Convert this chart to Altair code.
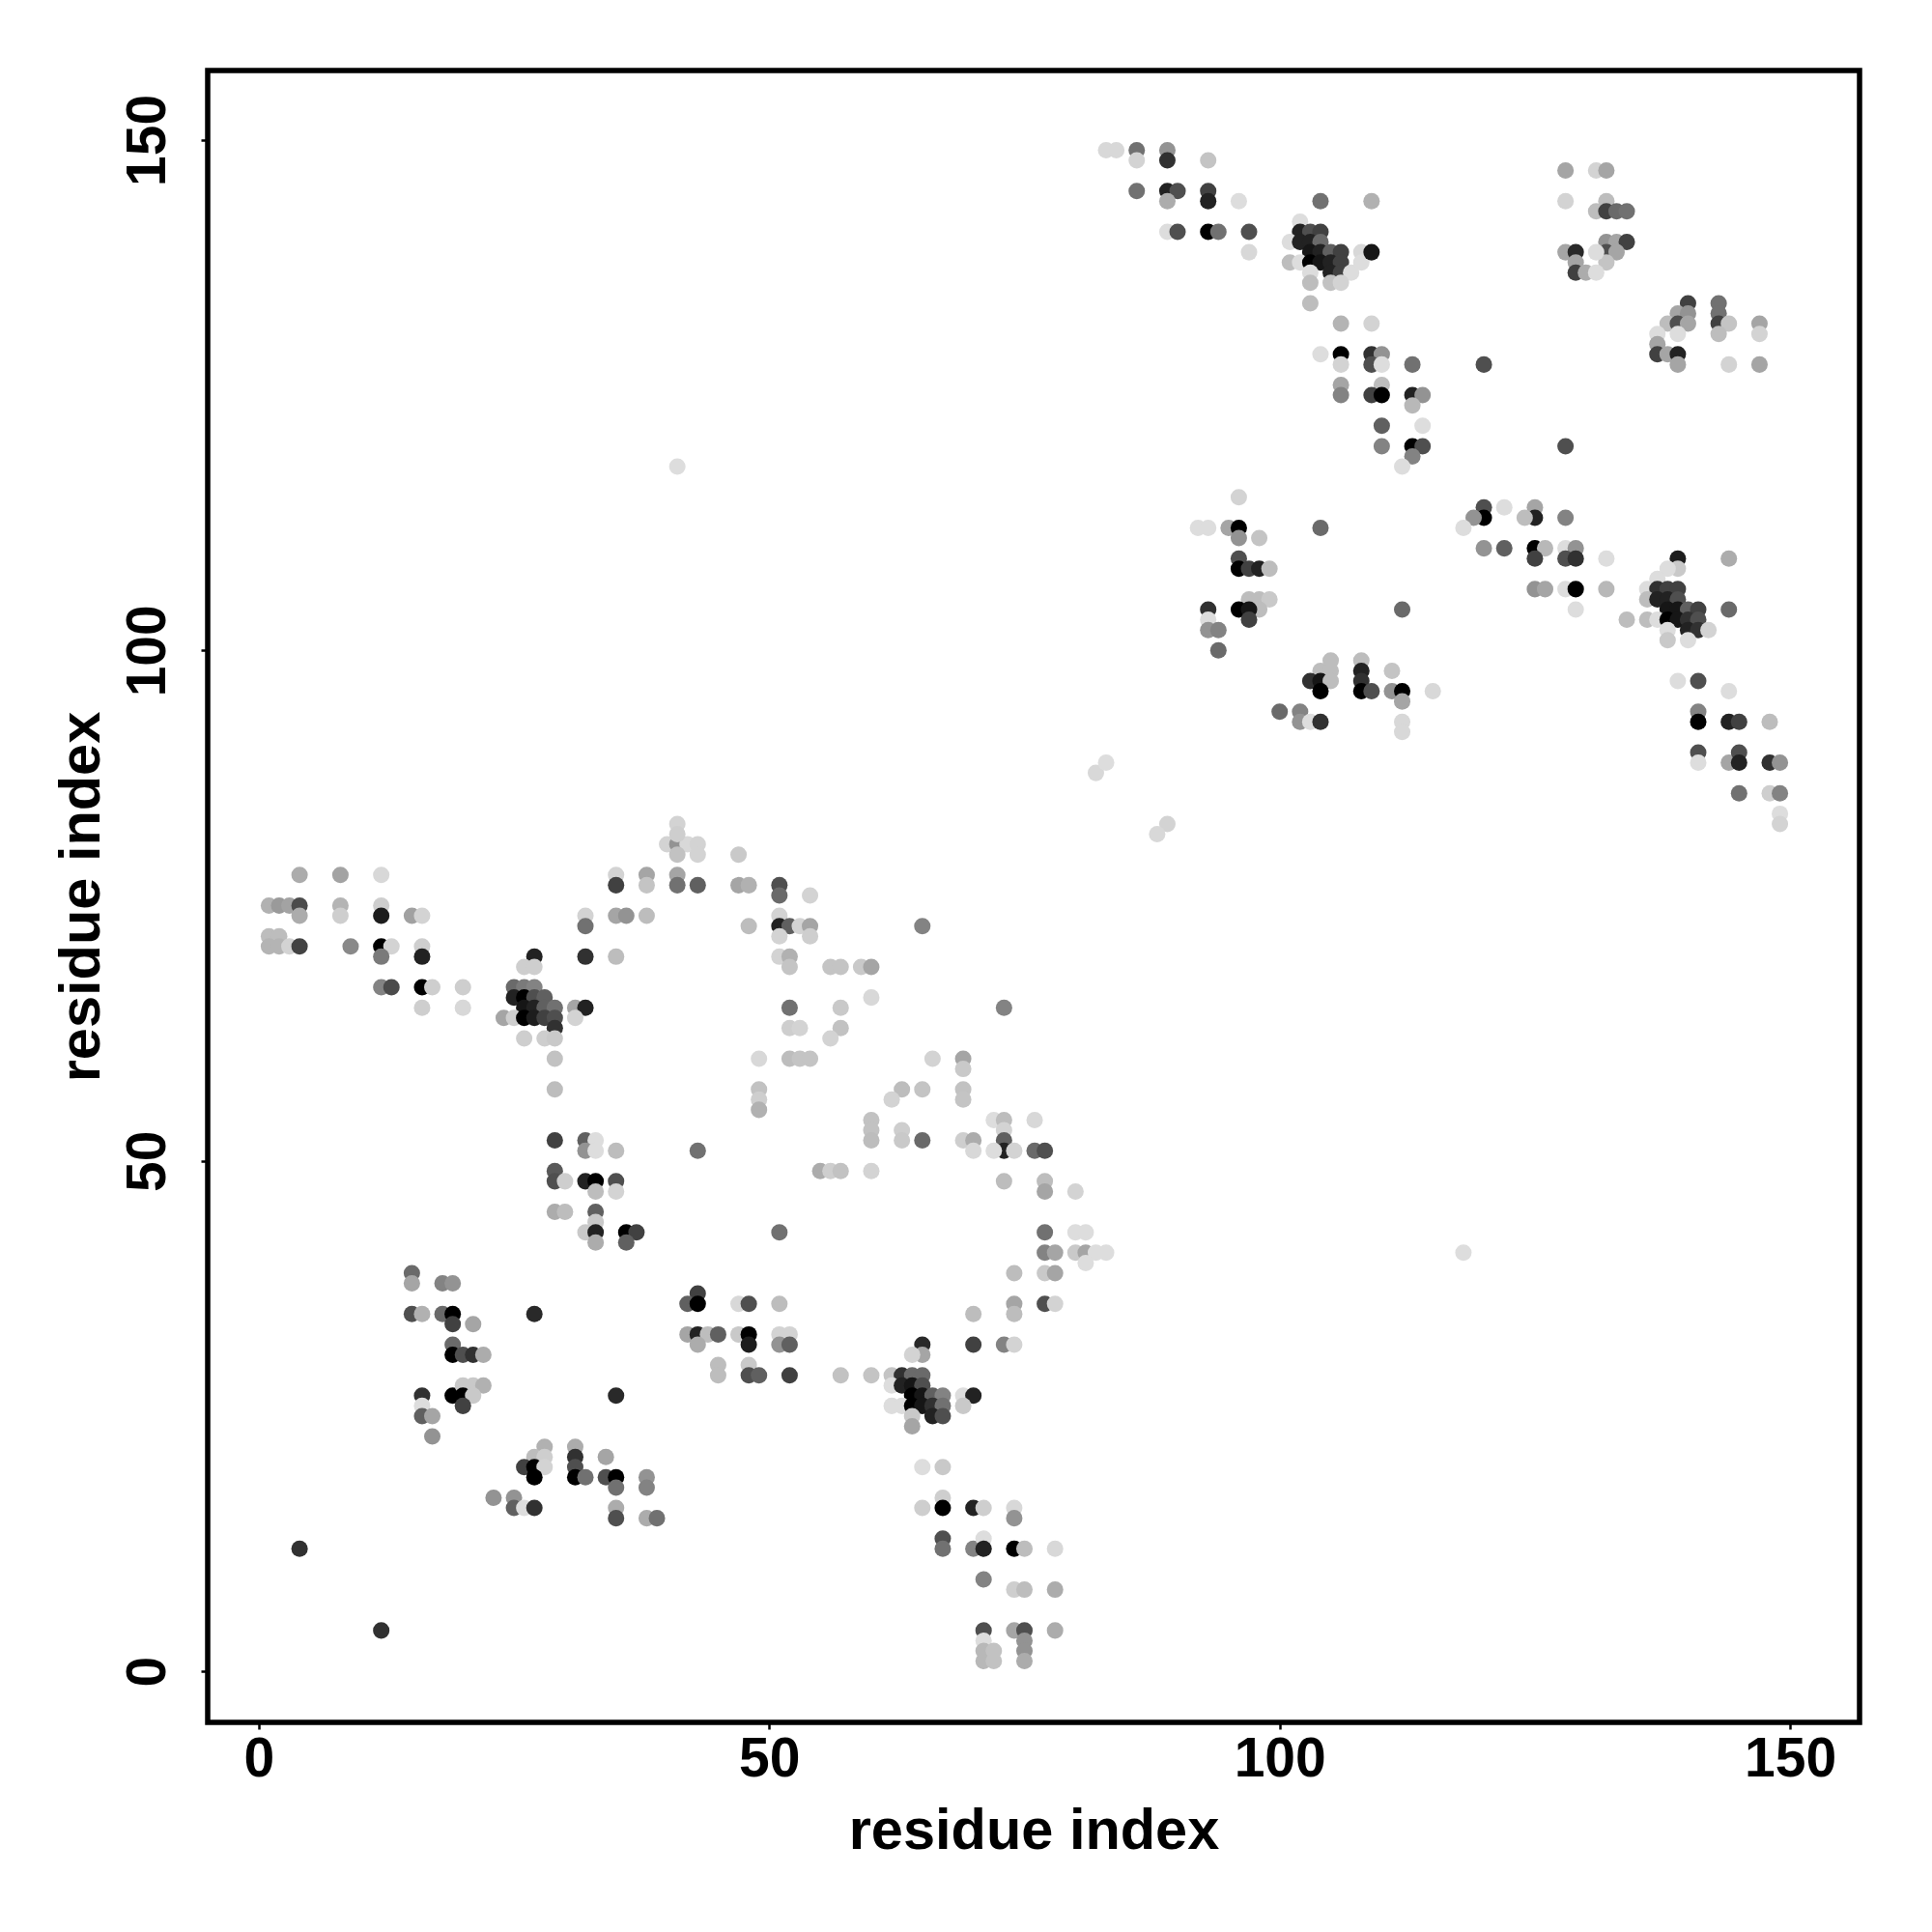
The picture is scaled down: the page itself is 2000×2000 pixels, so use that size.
import altair as alt
import pandas as pd

# contacts as (residue i, residue j, score 0-100); score drives the gray level
contacts_a = [
    (4,78,20),(8,78,24),(12,78,2),
    (1,75,18),(2,75,28),(3,75,24),(4,75,64),(4,74,20),
    (8,75,17),(8,74,6),(12,75,6),(12,74,88),(15,74,25),(16,74,4),
    (1,72,13),(2,72,13),(1,71,17),(2,71,17),(3,71,4),(4,71,68),
    (9,71,35),(12,71,100),(13,71,4),(12,70,42),(16,71,6),(16,70,85),
    (12,67,38),(13,67,64),(16,67,100),(17,67,6),(20,67,6),
    (16,65,6),(20,65,2),
    (27,70,85),(26,69,6),(27,69,6),
    (25,67,49),(26,67,42),(27,67,38),
    (25,66,85),(26,66,100),(27,66,62),(28,66,54),
    (26,65,92),(27,65,85),(28,65,54),(29,65,46),
    (24,64,23),(25,64,6),(26,64,100),(27,64,88),(28,64,69),(29,64,62),(29,63,77),
    (26,62,6),(28,62,6),(29,62,8),
    (31,65,23),(32,65,85),(31,64,4),
    (29,60,11),(29,57,13),
    (29,52,69),(32,52,54),(33,52,0),(32,51,31),(33,51,0),(35,51,13),
    (29,49,57),(29,48,62),(30,48,6),(32,48,85),(33,48,100),(33,47,13),(35,48,62),(35,47,4),
    (29,45,20),(30,45,13),(33,45,54),(33,44,8),(32,43,8),(33,43,85),(33,42,20),
    (36,43,100),(37,43,69),(36,42,54),
]

contacts_b = [
    (41,83,4),(40,81,4),(41,81,31),(42,81,2),(43,81,4),(41,82,6),(41,80,11),(43,80,4),
    (47,80,8),
    (35,78,4),(35,77,69),(38,78,23),(38,77,10),(41,78,23),(41,77,46),(43,77,54),
    (47,77,23),(48,77,18),(51,77,62),(51,76,49),(54,76,4),
    (32,74,4),(32,73,46),(35,74,23),(36,74,31),(38,74,13),
    (48,73,13),(51,74,4),(51,73,85),(52,73,54),(53,73,4),(54,73,23),(51,72,4),(54,72,6),
    (32,70,77),(35,70,13),(51,70,4),(52,70,18),(52,69,10),
    (56,69,10),(57,69,10),(59,69,8),(60,69,23),(60,66,2),
    (52,65,46),(57,65,8),(52,63,6),(53,63,4),(57,63,11),(56,62,4),
    (49,60,2),(52,60,13),(53,60,10),(54,60,10),
    (49,57,11),(49,56,6),(49,55,18),
    (60,54,11),(60,53,11),(60,52,13),
    (43,51,46),(55,49,20),(56,49,6),(57,49,11),(60,49,4),
    (51,43,46),
]

contacts_c = [
    (43,37,69),(42,36,54),(43,36,100),(47,36,2),(48,36,62),(51,36,13),
    (42,33,23),(43,33,85),(44,33,13),(45,33,54),(43,32,20),
    (47,33,8),(48,33,100),(48,32,88),(51,33,4),(52,33,4),(51,32,31),(52,32,54),
    (45,30,13),(45,29,13),(48,30,8),(48,29,62),(49,29,54),(52,29,69),
    (57,29,11),
    (35,27,81),
    (31,22,20),(31,21,77),(31,20,62),(31,19,100),(32,19,46),(34,21,23),
    (34,19,62),(35,19,100),(35,18,46),(38,19,31),(38,18,38),
    (35,16,20),(35,15,62),(38,15,20),(39,15,46),
    (15,39,49),(15,38,23),(18,38,38),(19,38,31),
    (15,35,62),(16,35,18),(18,35,49),(19,35,100),(19,34,69),(21,34,23),
    (27,35,81),
    (19,32,49),(19,31,100),(20,31,62),(21,31,77),(22,31,20),
    (16,27,77),(16,26,0),(16,25,54),(17,25,23),(17,23,31),
    (19,27,100),(20,28,8),(21,28,8),(22,28,18),(20,27,100),(21,27,8),(20,26,69),
    (28,22,18),(27,21,13),(28,21,6),(26,20,69),(27,20,100),(28,20,4),(27,19,100),
    (23,17,31),(25,17,31),(25,16,54),(26,16,0),(27,16,77),
    (4,12,77),(12,4,77),
]

contacts_d = [
    (77,43,46),(80,43,0),(81,43,0),
    (77,41,38),(78,41,23),(80,41,8),(81,41,23),(82,41,0),(83,41,0),(81,40,0),
    (74,39,13),(77,39,8),(78,39,23),
    (74,36,23),(74,35,13),(70,35,13),(77,36,62),(78,36,4),
    (65,32,81),(65,31,23),(64,31,4),(70,32,69),(73,32,38),(74,32,4),
    (60,29,10),(62,29,10),(63,29,77),(64,29,49),(65,29,49),
    (62,28,0),(63,28,85),(64,28,92),(65,28,62),
    (64,27,100),(65,27,92),(66,27,54),(67,27,38),
    (62,26,0),(63,26,0),(64,26,100),(65,26,92),(66,26,77),(67,26,46),
    (64,25,8),(66,25,85),(67,25,62),(64,24,23),
    (69,27,0),(70,27,85),(69,26,8),
    (65,20,0),(67,20,8),
    (65,16,6),(67,17,6),(67,16,100),(70,16,85),(71,16,6),(74,16,2),(74,15,31),
    (67,13,62),(67,12,46),(70,12,38),(71,13,0),(71,12,85),(74,12,100),(75,12,13),(78,12,2),
    (71,9,38),(74,8,6),(75,8,13),(78,8,20),
    (71,4,62),(71,3,0),(71,2,15),(71,1,15),(72,2,11),(72,1,11),
    (74,4,23),(75,4,62),(75,3,31),(75,2,31),(75,1,20),(78,4,20),
    (82,88,2),(83,89,0),(89,83,4),(88,82,2),
    (65,73,38),(73,65,38),
    (66,60,4),(69,60,23),(69,59,8),
    (63,57,13),(62,56,4),(65,57,10),(69,57,11),(69,56,10),
    (63,53,6),(63,52,8),(65,52,49),(69,52,6),(70,52,20),(70,51,2),
    (72,54,0),(73,54,13),(73,53,4),(73,52,54),(73,51,85),(72,51,0),(74,51,4),
    (76,54,2),(76,51,49),(77,51,62),
    (73,48,13),(77,48,13),(77,47,23),(80,47,4),
    (41,118,0),(118,41,0),
]

contacts_e = [
    (83,149,2),(84,149,2),(86,149,46),(86,148,4),(89,149,31),(89,148,77),(93,148,10),
    (86,145,46),(89,145,85),(90,145,62),(89,144,20),(93,145,69),(93,144,85),(96,144,0),
    (104,144,46),(109,144,18),
    (89,141,0),(90,141,62),(93,141,100),(94,141,46),(97,141,62),(97,139,2),
    (102,142,0),(102,141,85),(103,141,62),(104,141,69),
    (101,140,0),(102,140,85),(103,140,85),(104,140,49),
    (103,139,92),(104,139,85),(105,139,54),(106,139,69),
    (101,138,13),(102,138,0),(103,138,100),(104,138,92),(105,138,85),(106,138,69),
    (103,137,0),(105,137,85),(106,137,69),(107,137,0),
    (103,136,13),(105,136,11),(106,136,4),
    (108,139,2),(108,138,0),(109,139,92),
    (103,134,13),(106,132,17),(109,132,4),
    (104,129,0),(106,129,100),(106,128,4),(109,129,77),(110,129,31),(109,128,62),(110,128,0),(113,128,46),
    (106,126,23),(106,125,38),(110,126,13),(109,125,69),(110,125,100),
    (113,125,85),(114,125,31),(113,124,15),
    (110,122,54),(114,122,0),
    (110,120,38),(113,120,100),(114,120,62),(113,119,38),(112,118,0),
    (96,115,4),
    (128,147,23),(131,147,4),(132,147,23),(128,144,4),
    (132,144,13),(131,143,13),(132,143,69),(133,143,49),(134,143,46),
    (132,140,31),(133,140,23),(134,140,69),(132,139,62),(133,139,23),(132,138,10),
    (128,139,23),(129,139,81),(129,138,23),(129,137,69),(130,137,20),(131,137,0),(131,139,0),
    (140,134,69),(143,134,46),
    (139,133,23),(140,133,31),(143,133,46),
    (138,132,13),(139,132,62),(140,132,23),(143,132,69),(144,132,10),(147,132,23),
    (137,131,0),(139,131,0),(143,131,13),(147,131,4),
    (137,130,23),(137,129,69),(138,129,23),(139,129,85),(139,128,23),
    (144,128,4),(147,128,23),
    (120,128,62),(128,120,62),
]

contacts_f = [
    (92,112,0),(93,112,0),(95,112,23),(96,112,100),(96,111,31),(98,111,10),
    (104,112,49),
    (96,109,62),(96,108,100),(97,108,69),(98,108,85),(99,108,13),
    (97,105,13),(98,105,13),(99,105,8),(98,104,13),
    (93,104,77),(96,104,100),(97,104,92),(97,103,69),(93,103,0),(93,102,31),(94,102,38),
    (94,100,49),
    (112,104,49),
    (105,99,13),(104,98,13),(105,98,13),(103,97,77),(104,97,92),(105,97,13),(104,96,100),
    (108,99,13),(108,98,85),(108,97,77),(108,96,100),(109,96,62),
    (111,98,10),(111,96,31),(112,96,100),(112,95,23),(112,93,2),(112,92,2),
    (115,96,2),
    (100,94,49),(102,94,38),(102,93,31),(103,93,0),(104,93,77),
    (120,114,62),(120,113,100),(119,113,31),(118,112,0),(122,114,0),
    (125,114,23),(125,113,85),(124,113,13),(128,113,38),
    (120,110,31),(122,110,54),(125,110,100),(126,110,15),(125,109,69),
    (128,110,0),(129,110,31),(128,109,62),(129,109,77),(132,109,0),
    (125,106,31),(126,106,23),(128,106,0),(129,106,100),(129,104,0),(132,106,15),
    (139,109,88),(139,108,8),(138,108,0),(144,109,20),
    (137,107,0),(136,106,0),(137,106,77),(138,106,69),(139,106,69),
    (136,105,13),(137,105,85),(138,105,85),(139,105,62),
    (138,104,92),(139,104,92),(140,104,54),(141,104,69),
    (134,103,13),(136,103,13),(137,103,0),(138,103,100),(139,103,92),(140,103,77),(141,103,62),
    (138,102,0),(140,102,85),(141,102,77),(142,102,4),
    (138,101,8),(140,101,0),
    (144,104,49),
    (139,97,0),(141,97,62),(144,96,0),
    (141,94,38),(141,93,100),(144,93,85),(145,93,69),(148,93,13),
    (141,90,62),(141,89,0),(144,89,23),(145,90,62),(145,89,85),
    (148,89,77),(149,89,31),
    (145,86,46),(148,86,6),(149,86,38),
    (149,84,0),(149,83,4),
]

tick_values = [0, 50, 100, 150]

rows = []
for block in (contacts_a, contacts_b, contacts_c, contacts_d, contacts_e, contacts_f):
    for i, j, s in block:
        rows.append({"i": i, "j": j, "score": s})
df = pd.DataFrame(rows)

FONT = "Liberation Sans"

chart = alt.Chart(df).mark_circle(size=290, opacity=1).encode(
    x=alt.X("i:Q", scale=alt.Scale(domain=[-5, 156.8], nice=False, zero=False),
            axis=alt.Axis(title="residue index", values=tick_values, format="d",
                          labelPadding=3, titleBaseline="alphabetic", titleY=130)),
    y=alt.Y("j:Q", scale=alt.Scale(domain=[-5, 156.8], nice=False, zero=False),
            axis=alt.Axis(title="residue index", values=tick_values, format="d",
                          labelAngle=270, labelAlign="center", labelBaseline="alphabetic",
                          labelPadding=38, titleAngle=270, titleBaseline="alphabetic",
                          titleAlign="center", titleX=-113, titleY=855)),
    color=alt.Color("score:Q", scale=alt.Scale(domain=[0, 100], range=["#dddddd", "#000000"]),
                    legend=None),
).properties(
    width=1710, height=1710,
    autosize=alt.AutoSizeParams(type="none"),
    padding={"left": 207, "top": 65, "right": 60, "bottom": 200},
    background="white",
).configure_view(
    stroke="black", strokeWidth=5.5,
).configure_axis(
    grid=False, domain=False,
    ticks=True, tickColor="black", tickWidth=2.5, tickSize=7,
    labelFont=FONT, labelFontWeight="bold", labelFontSize=57, labelColor="black",
    titleFont=FONT, titleFontWeight="bold", titleFontSize=59.5, titleColor="black",
    labelFlush=False, labelOverlap=False,
)

chart.save("out.html", embed_options={"renderer": "svg", "actions": False})
